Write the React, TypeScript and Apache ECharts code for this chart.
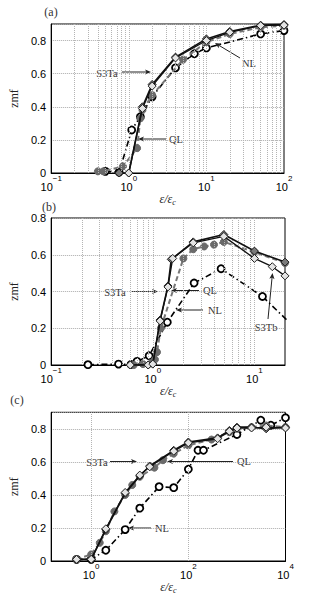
import React, { useEffect, useRef } from 'react';
import * as echarts from 'echarts';

// ---------- data ----------
const A_S3Ta = [[0.75, 0], [1.0, 0], [1.5, 0.40], [2, 0.535], [4, 0.70], [10, 0.81], [20, 0.855], [50, 0.893], [100, 0.897]];
const A_S3Tb = [[1.0, 0], [1.5, 0.39], [2, 0.525], [4, 0.695], [10, 0.80], [20, 0.85], [50, 0.89], [100, 0.893]];
const A_QL = [[0.4, 0.01], [0.47, 0.01], [0.84, 0.04], [1.28, 0.15], [1.41, 0.33], [1.5, 0.38], [2, 0.47], [5, 0.685], [10, 0.79], [20, 0.84], [50, 0.88], [100, 0.89]];
const A_NL = [[0.5, 0.01], [0.75, 0.005], [1.09, 0.26], [1.41, 0.34], [2, 0.46], [4, 0.635], [7, 0.72], [10, 0.755], [50, 0.84], [100, 0.86]];

const B_S3Ta = [[0.6, 0], [0.9, 0], [1.0, 0.005], [1.18, 0.245], [1.41, 0.43], [1.52, 0.575], [2.5, 0.67], [5, 0.71], [10, 0.62], [20, 0.56]];
const B_S3Tb = [[0.6, 0], [0.9, 0], [1.0, 0.005], [1.18, 0.24], [1.41, 0.425], [1.57, 0.58], [2.5, 0.665], [5, 0.70], [10, 0.58], [15, 0.535], [20, 0.485]];
const B_QL = [[0.65, 0], [0.8, 0.005], [0.95, 0.01], [1.05, 0.03], [1.1, 0.07], [1.2, 0.2], [2.0, 0.58], [2.5, 0.63], [3.2, 0.645], [4, 0.655], [5, 0.67], [10, 0.615], [20, 0.555]];
const B_NL = [[0.23, 0.002], [0.46, 0.005], [0.61, 0.003], [0.70, 0.02], [0.92, 0.05], [1.39, 0.233], [2.55, 0.446], [4.7, 0.524], [12, 0.373], [26, 0.194]];

const C_S3Ta = [[0.5, 0.01], [1, 0.01], [2, 0.19], [5, 0.41], [10, 0.515], [16, 0.575], [50, 0.67], [100, 0.72], [400, 0.745], [700, 0.79], [1000, 0.81], [2000, 0.81], [4000, 0.80], [10000, 0.81]];
const C_S3Tb = [[0.5, 0.01], [1, 0.01], [2, 0.195], [5, 0.415], [10, 0.52], [16, 0.57], [50, 0.665], [100, 0.715], [400, 0.74], [700, 0.785], [1000, 0.805], [2000, 0.805], [4000, 0.81], [10000, 0.805]];
const C_QL = [[0.5, 0.01], [1, 0.04], [1.5, 0.11], [2, 0.18], [3, 0.3], [5, 0.40], [7, 0.46], [10, 0.51], [20, 0.565], [30, 0.61], [50, 0.65], [100, 0.70], [300, 0.735], [700, 0.78], [1000, 0.80], [2000, 0.81], [4000, 0.82], [10000, 0.81]];
const C_NL = [[0.5, 0.01], [1, 0.01], [2, 0.065], [5, 0.19], [10, 0.32], [25, 0.45], [50, 0.444], [100, 0.555], [158, 0.67], [205, 0.67], [1000, 0.766], [3100, 0.852], [5000, 0.822], [10000, 0.867]];

// axis ranges and grid-line values
const X_RANGE_A = [0.1, 100];
const X_RANGE_B = [0.1, 20];
const X_RANGE_C = [0.15, 10000];
const Y_MAX_A = 0.9;
const Y_MAX_B = 0.8;
const Y_MAX_C = 0.9;
const Y_STEP = 0.2;
const VLINES_A = [0.2, 0.3, 0.4, 0.5, 0.6, 0.7, 0.8, 0.9, 1, 2, 3, 4, 5, 6, 7, 8, 9, 10, 20, 30, 40, 50, 60, 70, 80, 90];
const VLINES_B = [0.2, 0.3, 0.4, 0.5, 0.6, 0.7, 0.8, 0.9, 1, 2, 3, 4, 5, 6, 7, 8, 9, 10];
const VLINES_C = [1, 100];

const PANEL_TAGS = ['(a)', '(b)', '(c)'];
const Y_NAME = 'zmf';

// ---------- styling helpers ----------
const SANS = 'Liberation Sans, Arial, sans-serif';
const SERIF = 'Liberation Serif, DejaVu Serif, serif';

const GRIDS = [
  { left: 40, top: 24, width: 244, height: 149 },
  { left: 40.6, top: 218, width: 244.4, height: 147 },
  { left: 40.7, top: 412.3, width: 244.8, height: 148.7 },
];

function expLabel(evenOnly: boolean) {
  return (v: number) => {
    const e = Math.log10(v);
    const r = Math.round(e);
    if (Math.abs(e - r) > 1e-6) return '';
    if (evenOnly && r % 2 !== 0) return '';
    return `{b|10}{s|${r < 0 ? '\u2212' + -r : r}}`;
  };
}

function xAxisFor(idx: number, range: number[], evenOnly: boolean) {
  return {
    type: 'log',
    logBase: 10,
    gridIndex: idx,
    min: range[0],
    max: range[1],
    name: '{it|\u03b5/\u03b5}{sub|c}',
    nameLocation: 'middle',
    nameGap: 16,
    nameTextStyle: {
      rich: {
        it: { fontFamily: SERIF, fontStyle: 'italic', fontSize: 12, lineHeight: 16, verticalAlign: 'middle', color: '#222' },
        sub: { fontFamily: SERIF, fontStyle: 'italic', fontSize: 8, lineHeight: 8, verticalAlign: 'bottom', color: '#222' },
      },
    },
    axisLine: { show: true, lineStyle: { color: '#000', width: 1 } },
    axisTick: { show: false },
    splitLine: { show: false },
    minorTick: { show: false },
    axisLabel: {
      margin: 1,
      formatter: expLabel(evenOnly),
      rich: {
        b: { fontFamily: SANS, fontSize: 11, lineHeight: 18, verticalAlign: 'bottom', color: '#000' },
        s: { fontFamily: SANS, fontSize: 8, lineHeight: 8, verticalAlign: 'top', color: '#000' },
      },
    },
  };
}

function yAxisFor(idx: number, max: number, showMax: boolean) {
  return {
    type: 'value',
    gridIndex: idx,
    min: 0,
    max,
    interval: Y_STEP,
    name: Y_NAME,
    nameLocation: 'middle',
    nameRotate: 90,
    nameGap: 19,
    nameTextStyle: { fontFamily: SERIF, fontSize: 12, color: '#222' },
    axisLine: { show: true, onZero: false, lineStyle: { color: '#000', width: 1 } },
    axisTick: { show: false },
    axisLabel: {
      margin: 5,
      showMaxLabel: showMax,
      fontFamily: SANS,
      fontSize: 11,
      color: '#000',
      formatter: (v: number) => (v === 0 ? '0' : v.toFixed(1)),
    },
    splitLine: { show: true, lineStyle: { type: 'dotted', color: '#aaa', width: 1 } },
  };
}

function seriesFor(idx: number, s3a: number[][], s3b: number[][], ql: number[][], nl: number[][], vlines: number[]) {
  const common = { xAxisIndex: idx, yAxisIndex: idx, clip: true, emphasis: { disabled: true }, animation: false };
  return [
    {
      ...common,
      type: 'line',
      name: 'grid' + idx,
      data: [[vlines[0], 0]],
      showSymbol: false,
      symbol: 'none',
      lineStyle: { opacity: 0 },
      silent: true,
      z: 1,
      markLine: {
        silent: true,
        animation: false,
        symbol: ['none', 'none'],
        label: { show: false },
        lineStyle: { type: 'dotted', color: '#b4b4b4', width: 1 },
        emphasis: { disabled: true },
        data: vlines.map((v) => ({ xAxis: v })),
      },
    },
    {
      ...common,
      type: 'line',
      name: 'NL',
      data: nl,
      symbol: 'circle',
      symbolSize: 7,
      itemStyle: { color: '#fff', borderColor: '#000', borderWidth: 1.8 },
      lineStyle: { color: '#000', width: 1.6, type: [6, 3, 1.5, 3] },
      z: 3,
    },
    {
      ...common,
      type: 'line',
      name: 'QL',
      data: ql,
      symbol: 'circle',
      symbolSize: 7,
      itemStyle: { color: '#6a6a6a', borderColor: '#6a6a6a', borderWidth: 1 },
      lineStyle: { color: '#777', width: 2, type: [5, 3] },
      z: 4,
    },
    {
      ...common,
      type: 'line',
      name: 'S3Ta',
      data: s3a,
      symbol: 'diamond',
      symbolSize: 8,
      itemStyle: { color: '#7a7a7a', borderColor: '#222', borderWidth: 1 },
      lineStyle: { color: '#111', width: 1.6 },
      z: 5,
    },
    {
      ...common,
      type: 'line',
      name: 'S3Tb',
      data: s3b,
      symbol: 'diamond',
      symbolSize: 8,
      itemStyle: { color: '#e4e4e4', borderColor: '#222', borderWidth: 1 },
      lineStyle: { color: '#111', width: 1.3 },
      z: 6,
    },
  ];
}

function arrow(x1: number, y1: number, x2: number, y2: number) {
  const dx = x2 - x1;
  const dy = y2 - y1;
  const len = Math.sqrt(dx * dx + dy * dy);
  const ux = dx / len;
  const uy = dy / len;
  const nx = -uy;
  const ny = ux;
  const hl = 6;
  const hw = 2.6;
  const bx = x2 - ux * hl;
  const by = y2 - uy * hl;
  return {
    type: 'group',
    silent: true,
    children: [
      { type: 'line', shape: { x1, y1, x2: bx + ux * 2, y2: by + uy * 2 }, style: { stroke: '#222', lineWidth: 1 } },
      {
        type: 'polygon',
        shape: { points: [[x2, y2], [bx + nx * hw, by + ny * hw], [bx + ux * 1.5, by + uy * 1.5], [bx - nx * hw, by - ny * hw]] },
        style: { fill: '#222' },
      },
    ],
  };
}

function label(text: string, x: number, y: number, size = 10.5) {
  return {
    type: 'text',
    x,
    y,
    silent: true,
    style: {
      text,
      font: `${size}px ${SERIF}`,
      fill: '#333',
      align: 'center',
      verticalAlign: 'middle',
      textAlign: 'center',
      textVerticalAlign: 'middle',
    },
  };
}

export default function App() {
  const ref = useRef<HTMLDivElement>(null);
  useEffect(() => {
    if (!ref.current) return;
    const chart = echarts.init(ref.current, undefined, { renderer: 'svg' });
    const option = {
      animation: false,
      backgroundColor: '#fff',
      grid: GRIDS.map((g) => ({ ...g, show: true, borderColor: '#000', borderWidth: 1, backgroundColor: 'transparent', containLabel: false })),
      xAxis: [
        xAxisFor(0, X_RANGE_A, false),
        xAxisFor(1, X_RANGE_B, false),
        xAxisFor(2, X_RANGE_C, true),
      ],
      yAxis: [
        yAxisFor(0, Y_MAX_A, false),
        yAxisFor(1, Y_MAX_B, true),
        yAxisFor(2, Y_MAX_C, false),
      ],
      series: [
        ...seriesFor(0, A_S3Ta, A_S3Tb, A_QL, A_NL, VLINES_A),
        ...seriesFor(1, B_S3Ta, B_S3Tb, B_QL, B_NL, VLINES_B),
        ...seriesFor(2, C_S3Ta, C_S3Tb, C_QL, C_NL, VLINES_C),
      ],
      graphic: [
        label(PANEL_TAGS[0], 51, 12, 12),
        label(PANEL_TAGS[1], 49, 207, 12),
        label(PANEL_TAGS[2], 17, 400, 12),
        // (a)
        label('S3Ta', 107, 73),
        arrow(122, 72, 151, 72),
        label('QL', 176, 139),
        arrow(166, 139, 138, 139),
        label('NL', 249, 63),
        arrow(240, 58, 215, 43),
        // (b)
        label('S3Ta', 115, 292),
        arrow(132, 291.5, 158, 291.5),
        label('QL', 210, 290),
        arrow(199, 290.5, 171, 290.5),
        label('NL', 215, 310),
        arrow(203, 310, 176, 310),
        label('S3Tb', 266, 327),
        arrow(268, 319, 272.5, 273),
        // (c)
        label('S3Ta', 97, 462),
        arrow(110, 461.5, 137, 461.5),
        label('QL', 244, 461),
        arrow(233, 461.5, 167, 461.5),
        label('NL', 162, 528),
        arrow(151, 528, 128, 528),
      ],
    };
    chart.setOption(option as any);
    return () => chart.dispose();
  }, []);
  return <div ref={ref} style={{ position: 'fixed', left: 0, top: 0, width: 315, height: 600, background: '#fff' }} />;
}
